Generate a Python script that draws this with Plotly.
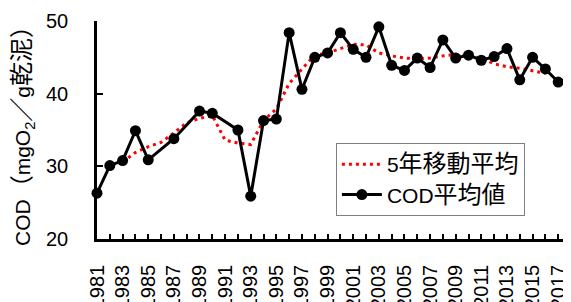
import plotly.graph_objects as go

years = [1981, 1982, 1983, 1984, 1985, 1987, 1989, 1990, 1992, 1993, 1994, 1995,
         1996, 1997, 1998, 1999, 2000, 2001, 2002, 2003, 2004, 2005, 2006, 2007,
         2008, 2009, 2010, 2011, 2012, 2013, 2014, 2015, 2016, 2017, 2018]
cod = [26.3, 30.1, 30.8, 34.9, 30.9, 33.8, 37.6, 37.3, 35.0, 25.9, 36.3, 36.5,
       48.4, 40.6, 45.0, 45.6, 48.4, 46.1, 45.0, 49.2, 43.9, 43.2, 44.9, 43.6,
       47.4, 44.9, 45.3, 44.6, 45.1, 46.2, 41.9, 45.0, 43.4, 41.6, 41.6]

ma_years = list(range(1983, 2017))
ma = [30.6, 31.9, 32.7, 33.3, 34.6, 36.0, 36.6, 37.0, 33.6, 33.2, 33.0, 36.3,
      37.9, 41.4, 43.4, 45.3, 45.6, 46.2, 46.8, 46.7, 45.6, 45.2, 44.9, 44.8,
      44.9, 45.2, 45.4, 45.2, 44.9, 44.1, 43.7, 43.5, 43.1, 42.8]

label_years = list(range(1981, 2018, 2))
label_text = [str(y) for y in label_years]
y_ticks = [20, 30, 40, 50]

FONT = "Arial, 'Liberation Sans', 'Noto Sans CJK JP', sans-serif"
CJK = "<span style='font-size:24px'>{}</span>"

y_title = ("COD" + CJK.format("（") + "mgO<sub>2</sub>" + CJK.format("／")
           + "g" + CJK.format("乾泥") + CJK.format("）"))
ma_name = "5" + CJK.format("年移動平均")
cod_name = "COD" + CJK.format("平均値")

fig = go.Figure()
fig.add_trace(go.Scatter(
    x=ma_years, y=ma, mode="lines", name=ma_name,
    line=dict(color="#FF0000", width=3, dash="3px,4px"),
    cliponaxis=False,
))
fig.add_trace(go.Scatter(
    x=years, y=cod, mode="lines+markers", name=cod_name,
    line=dict(color="black", width=3),
    marker=dict(color="black", size=11),
    cliponaxis=False,
))

# page body has an 8px default margin; offsets below compensate for it
fig.update_layout(
    width=563, height=294,
    margin=dict(l=89, r=0, t=13, b=63),
    paper_bgcolor="white", plot_bgcolor="white",
    font=dict(family=FONT, size=19, color="black"),
    showlegend=True,
    legend=dict(
        x=0.504, y=0.44, xanchor="left", yanchor="top",
        bgcolor="white", bordercolor="#7f7f7f", borderwidth=1,
        font=dict(size=21), tracegroupgap=0, itemwidth=40,
    ),
    xaxis=dict(
        range=[1981, 2018.0], showgrid=False, zeroline=False, automargin=False,
        showline=True, linecolor="black", linewidth=2.5,
        tickmode="array", tickvals=label_years, ticktext=label_text,
        ticks="inside", ticklen=5, tickwidth=2, tickcolor="black",
        tickangle=-90, ticklabelstandoff=15, tickfont=dict(size=20),
        minor=dict(ticks="inside", dtick=1, tick0=1981, ticklen=5,
                   tickwidth=2, tickcolor="black", showgrid=False),
    ),
    yaxis=dict(
        range=[20, 50], showgrid=False, zeroline=False, automargin=False,
        showline=True, linecolor="black", linewidth=2.5,
        tickmode="array", tickvals=y_ticks, tickfont=dict(size=20),
        ticks="inside", ticklen=6, tickwidth=2, tickcolor="black",
        ticklabelstandoff=22,
        title=dict(text=y_title, standoff=10, font=dict(size=21)),
    ),
)

fig.write_html("out.html")
